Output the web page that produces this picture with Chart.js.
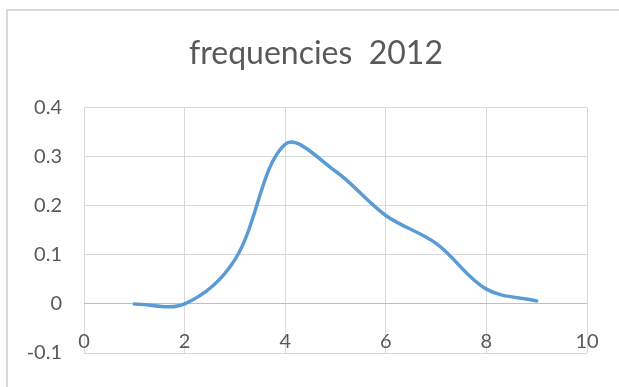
<!DOCTYPE html>
<html>
<head>
<meta charset="utf-8">
<script src="https://cdn.jsdelivr.net/npm/chart.js@4/dist/chart.umd.min.js"></script>
<style>
  html, body { margin: 0; padding: 0; background: #fff; }
  #wrap { width: 619px; height: 387px; }
</style>
</head>
<body>
<div id="wrap"><canvas id="chart" width="619" height="387"></canvas></div>
<script>
// values
const xValues = [1, 2, 3, 4, 5, 6, 7, 8, 9];
const freqValues = [0, 0, 0.09, 0.325, 0.27, 0.18, 0.123, 0.03, 0.006];
const titleText = 'frequencies  2012';

const gridColor = '#d9d9d9';
const zeroColor = '#bfbfbf';
const textColor = '#595959';
const fontFamily = 'Lato, "Open Sans", sans-serif';

// Excel-like outer frame (runs off the right and bottom edges)
const framePlugin = {
  id: 'frame',
  beforeDraw(chart) {
    const ctx = chart.ctx;
    ctx.save();
    ctx.strokeStyle = gridColor;
    ctx.lineWidth = 2;
    ctx.strokeRect(7, 10, 700, 500);
    ctx.restore();
  }
};

const chart = new Chart(document.getElementById('chart'), {
  type: 'line',
  data: {
    datasets: [{
      data: xValues.map((x, i) => ({ x: x, y: freqValues[i] })),
      borderColor: '#5b9bd5',
      borderWidth: 3.5,
      borderCapStyle: 'round',
      pointRadius: 0,
      tension: 0.35,
      fill: false
    }]
  },
  options: {
    responsive: false,
    animation: false,
    layout: { padding: { left: 13, right: 0, top: 0, bottom: 0 } },
    plugins: {
      legend: { display: false },
      tooltip: { enabled: false },
      title: {
        display: true,
        text: titleText,
        color: textColor,
        font: { family: fontFamily, size: 32, weight: 'normal', lineHeight: 1.2 },
        padding: { top: 34, bottom: 35 }
      }
    },
    scales: {
      x: {
        type: 'linear',
        min: 0,
        max: 10,
        border: { display: false },
        grid: { color: gridColor, lineWidth: 1, drawTicks: false },
        ticks: {
          stepSize: 2,
          color: textColor,
          mirror: true,
          padding: -1,
          maxRotation: 0,
          font: { family: fontFamily, size: 20 }
        },
        afterFit(scale) { scale.height = 26; }
      },
      y: {
        min: -0.1,
        max: 0.4,
        border: { display: false },
        grid: {
          color: ctx => (ctx.tick && ctx.tick.value === 0 ? zeroColor : gridColor),
          lineWidth: 1,
          drawTicks: false
        },
        ticks: {
          stepSize: 0.1,
          color: textColor,
          padding: 22,
          font: { family: fontFamily, size: 20 }
        },
        afterFit(scale) { scale.width = 71; }
      },
      // empty right-hand axis, only reserves the space right of the plot
      yRight: {
        position: 'right',
        border: { display: false },
        grid: { display: false },
        ticks: { display: false },
        afterFit(scale) { scale.width = 32; }
      }
    }
  },
  plugins: [framePlugin]
});
</script>
</body>
</html>
